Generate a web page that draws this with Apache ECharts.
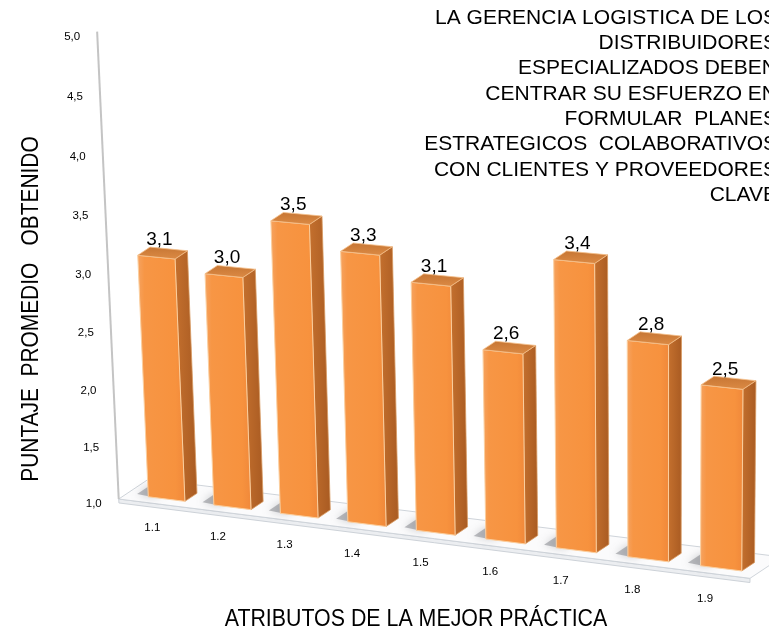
<!DOCTYPE html>
<html>
<head>
<meta charset="utf-8">
<title>Puntaje promedio por atributo</title>
<script src="https://cdn.jsdelivr.net/npm/echarts/dist/echarts.min.js"></script>
<style>
  html, body { margin: 0; padding: 0; background: #ffffff; }
  #chart { width: 769px; height: 634px; }
</style>
</head>
<body>
<div id="chart"></div>
<script>
// ---- data ----
const categories = ['1.1', '1.2', '1.3', '1.4', '1.5', '1.6', '1.7', '1.8', '1.9'];
const scores = [3.1, 3.0, 3.5, 3.3, 3.1, 2.6, 3.4, 2.8, 2.5];
const yTicks = [1.0, 1.5, 2.0, 2.5, 3.0, 3.5, 4.0, 4.5, 5.0];
const yTitle = 'PUNTAJE  PROMEDIO   OBTENIDO';
const xTitle = 'ATRIBUTOS DE LA MEJOR PRÁCTICA';
const noteLines = [
  'LA GERENCIA LOGISTICA DE LOS',
  'DISTRIBUIDORES',
  'ESPECIALIZADOS DEBEN',
  'CENTRAR SU ESFUERZO EN',
  'FORMULAR  PLANES',
  'ESTRATEGICOS  COLABORATIVOS',
  'CON CLIENTES Y PROVEEDORES',
  'CLAVE'
];

// ---- 3D look: perspective frame of the bars' front plane ----
// (category position u, value v) -> screen point, for four corners
const FRAME = [
  { u: 0, v: 1, x: 134, y: 495 },
  { u: 9, v: 1, x: 758, y: 573 },
  { u: 0, v: 5, x: 113, y: 27 },
  { u: 9, v: 5, x: 762, y: 75 }
];
const FRONT_Z = 0.25;       // depth of the bars' front faces (0 = floor front, 1 = floor back)
const BACK_Z = 0.65;        // depth of the bars' back faces
const DEPTH = [30, -20];    // screen offset of one full floor depth
const BAR_W = 0.56;         // bar width in category units
const FLOOR_U = [-0.12, 9.0];
const FONT = '"Liberation Sans", Arial, sans-serif';

const fmt = v => v.toFixed(1).replace('.', ',');

function solveHomography(src, dst) {
  const A = [], b = [];
  for (let i = 0; i < 4; i++) {
    const [x, y] = src[i], [X, Y] = dst[i];
    A.push([x, y, 1, 0, 0, 0, -x * X, -y * X]); b.push(X);
    A.push([0, 0, 0, x, y, 1, -x * Y, -y * Y]); b.push(Y);
  }
  const n = 8;
  for (let c = 0; c < n; c++) {
    let p = c;
    for (let r = c + 1; r < n; r++) if (Math.abs(A[r][c]) > Math.abs(A[p][c])) p = r;
    [A[c], A[p]] = [A[p], A[c]]; [b[c], b[p]] = [b[p], b[c]];
    for (let r = 0; r < n; r++) {
      if (r === c) continue;
      const f = A[r][c] / A[c][c];
      for (let k = c; k < n; k++) A[r][k] -= f * A[c][k];
      b[r] -= f * b[c];
    }
  }
  return b.map((v, i) => v / A[i][i]);
}

// Builds a projector (u, v, z) -> screen using the grid's own axes
function makeProjector(api) {
  const band = api.size([1, 0])[0];
  const x0 = api.coord([0, 1])[0];
  const flat = (u, v) => [x0 + (u - 0.5) * band, api.coord([0, v])[1]];
  const H = solveHomography(FRAME.map(f => flat(f.u, f.v)), FRAME.map(f => [f.x, f.y]));
  const wOf = p => H[6] * p[0] + H[7] * p[1] + 1;
  const wRef = wOf(flat(0, 1));
  return function (u, v, z) {
    const p = flat(u, v);
    const w = wOf(p);
    const X = (H[0] * p[0] + H[1] * p[1] + H[2]) / w;
    const Y = (H[3] * p[0] + H[4] * p[1] + H[5]) / w;
    const k = (z - FRONT_Z) * wRef / w;
    return [X + k * DEPTH[0], Y + k * DEPTH[1]];
  };
}

// Floor, wall edge, tick labels and category labels
function renderFrame(params, api) {
  const P = makeProjector(api);
  const [u0, u1] = FLOOR_U;
  const kids = [];
  const slab = 0.035;
  // floor slab front
  kids.push({
    type: 'polygon',
    shape: { points: [P(u0, 1, 0), P(u1, 1, 0), P(u1, 1 - slab, 0), P(u0, 1 - slab, 0)] },
    style: { fill: '#eceef1', stroke: '#cdd2d8', lineWidth: 1 }
  });
  // floor top
  kids.push({
    type: 'polygon',
    shape: { points: [P(u0, 1, 0), P(u1, 1, 0), P(u1, 1, 1), P(u0, 1, 1)] },
    style: { fill: '#fbfbfc', stroke: '#cfd4da', lineWidth: 1 }
  });
  // soft shadows of the bars on the floor
  scores.forEach((v, i) => {
    const uL = i + 0.5 - BAR_W / 2;
    kids.push({
      type: 'polygon',
      shape: { points: [P(uL - 0.2, 1, FRONT_Z + 0.06), P(uL + 0.1, 1, FRONT_Z), P(uL + 0.1, 1, BACK_Z), P(uL - 0.2, 1, BACK_Z + 0.1)] },
      style: { fill: 'rgba(110,114,120,0.45)', shadowBlur: 8, shadowColor: 'rgba(110,114,120,0.75)' }
    });
  });
  // left wall edge (value axis line)
  kids.push({
    type: 'line',
    shape: { x1: P(u0, 1, 0)[0], y1: P(u0, 1, 0)[1], x2: P(u0, 5, 0)[0], y2: P(u0, 5, 0)[1] },
    style: { stroke: '#c4c4c4', lineWidth: 2 }
  });
  // value tick labels
  yTicks.forEach(t => {
    const p = P(u0, t, 0);
    kids.push({
      type: 'text', x: p[0] - 17, y: p[1] + 5,
      style: { text: fmt(t), fill: '#000', fontSize: 11.5, fontFamily: FONT, align: 'right', verticalAlign: 'middle' }
    });
  });
  // category labels
  categories.forEach((c, i) => {
    const p = P(i + 0.5, 0.83, -0.25);
    kids.push({
      type: 'text', x: p[0], y: p[1],
      style: { text: c, fill: '#000', fontSize: 11.5, fontFamily: FONT, align: 'center', verticalAlign: 'middle' }
    });
  });
  return { type: 'group', children: kids };
}

// One 3D column per data item
function renderBar(params, api) {
  const P = makeProjector(api);
  const i = api.value(0);
  const v = api.value(1);
  const uL = i + 0.5 - BAR_W / 2, uR = i + 0.5 + BAR_W / 2;
  const zf = FRONT_Z, zb = BACK_Z;
  const G = echarts.graphic.LinearGradient;
  const front = [P(uL, 1, zf), P(uR, 1, zf), P(uR, v, zf), P(uL, v, zf)];
  const side = [P(uR, 1, zf), P(uR, 1, zb), P(uR, v, zb), P(uR, v, zf)];
  const top = [P(uL, v, zf), P(uR, v, zf), P(uR, v, zb), P(uL, v, zb)];
  const lab = P(i + 0.5, v, zf + 0.1);
  return {
    type: 'group',
    children: [
      {
        type: 'polygon', shape: { points: side },
        style: {
          fill: new G(0, 0, 1, 0, [{ offset: 0, color: '#c4702e' }, { offset: 1, color: '#a95b22' }]),
          stroke: '#d89a62', lineWidth: 0.8
        }
      },
      {
        type: 'polygon', shape: { points: front },
        style: {
          fill: new G(0, 0, 1, 0, [
            { offset: 0, color: '#f6a462' }, { offset: 0.15, color: '#f79645' },
            { offset: 0.8, color: '#f7923e' }, { offset: 1, color: '#f0883a' }
          ]),
          stroke: '#fbcf9f', lineWidth: 1
        }
      },
      {
        type: 'polygon', shape: { points: top },
        style: {
          fill: new G(0, 0, 0, 1, [{ offset: 0, color: '#c67634' }, { offset: 1, color: '#dc8a44' }]),
          stroke: '#f5c08c', lineWidth: 0.8
        }
      },
      {
        type: 'text', x: lab[0], y: lab[1] - 6,
        style: { text: fmt(v), fill: '#000', fontSize: 19, fontFamily: FONT, align: 'center', verticalAlign: 'bottom' }
      }
    ]
  };
}

const chart = echarts.init(document.getElementById('chart'), null, { renderer: 'canvas' });

const noteGraphics = noteLines.map((t, k) => ({
  type: 'text', x: 777, y: 18 + k * 25.3,
  style: { text: t, fill: '#000', fontSize: 21, fontFamily: FONT, align: 'right', verticalAlign: 'middle' }
}));

chart.setOption({
  backgroundColor: '#ffffff',
  animation: false,
  grid: { left: 120, right: 20, top: 40, bottom: 140 },
  xAxis: { type: 'category', data: categories, show: false },
  yAxis: { type: 'value', min: 1, max: 5, interval: 0.5, show: false },
  graphic: [
    ...noteGraphics,
    {
      type: 'text', x: 31, y: 309, rotation: Math.PI / 2, scaleX: 0.87,
      style: { text: yTitle, fill: '#000', fontSize: 24, fontFamily: FONT, align: 'center', verticalAlign: 'middle' }
    },
    {
      type: 'text', x: 416, y: 619, scaleX: 0.89,
      style: { text: xTitle, fill: '#000', fontSize: 24, fontFamily: FONT, align: 'center', verticalAlign: 'middle' }
    }
  ],
  series: [
    {
      type: 'custom', z: 1, silent: true,
      encode: { x: 0, y: 1 },
      data: [[0, 1]],
      renderItem: renderFrame
    },
    {
      type: 'custom', z: 2,
      encode: { x: 0, y: 1 },
      data: scores.map((v, i) => [i, v]),
      renderItem: renderBar
    }
  ]
});
</script>
</body>
</html>
